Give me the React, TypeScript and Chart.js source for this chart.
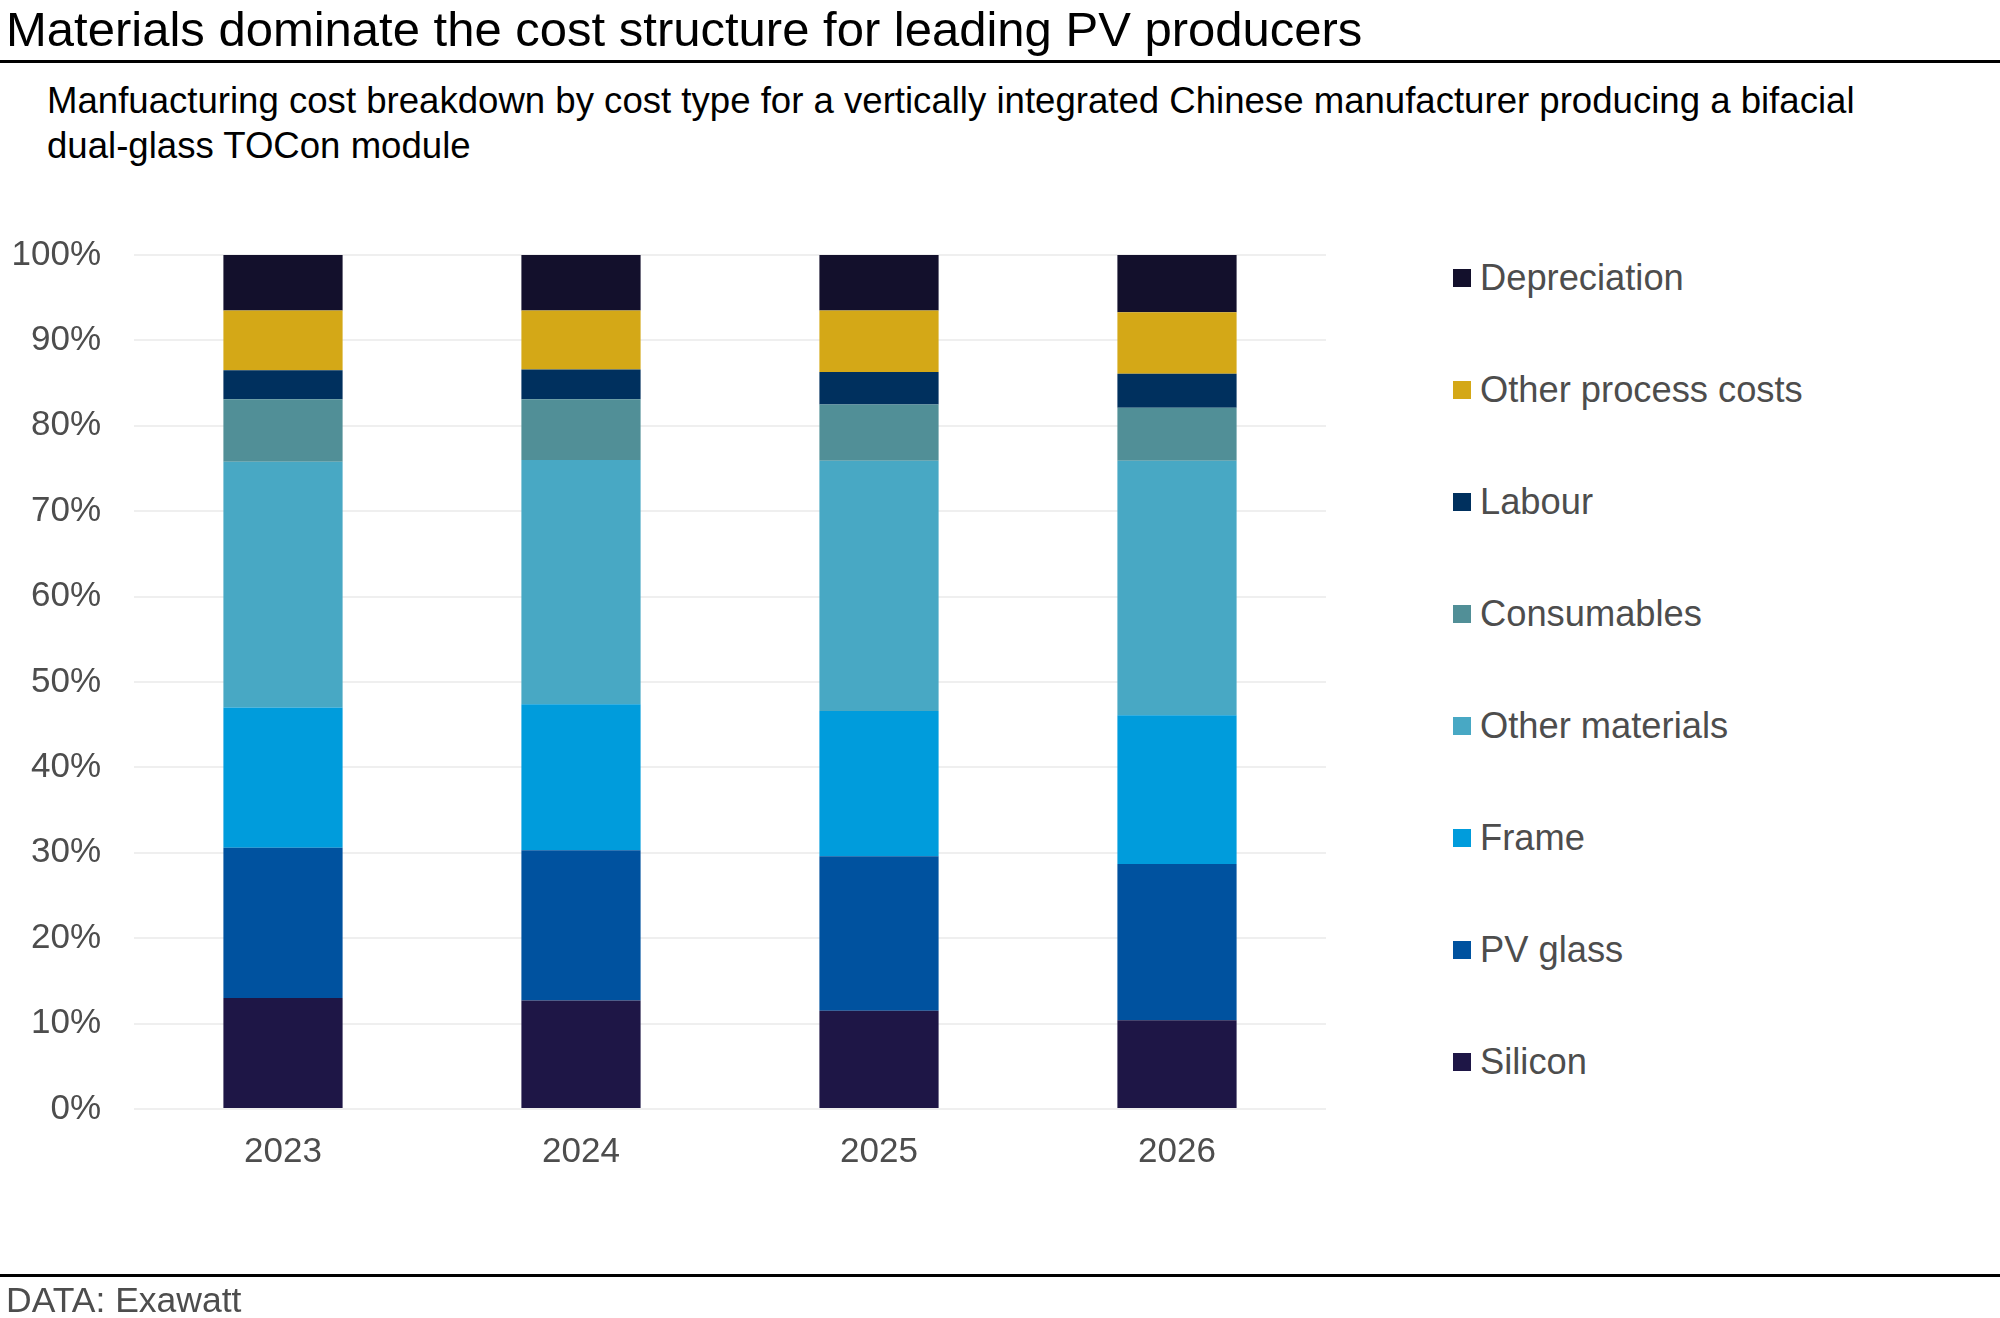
import React, { useEffect, useRef } from "react";
import { Chart, registerables } from "chart.js";

Chart.register(...registerables);

const TITLE = "Materials dominate the cost structure for leading PV producers";
const SUBTITLE_1 =
  "Manfuacturing cost breakdown by cost type for a vertically integrated Chinese manufacturer producing a bifacial";
const SUBTITLE_2 = "dual-glass TOCon module";
const SOURCE = "DATA: Exawatt";

const years = ["2023", "2024", "2025", "2026"];

const seriesNames = [
  "Silicon",
  "PV glass",
  "Frame",
  "Other materials",
  "Consumables",
  "Labour",
  "Other process costs",
  "Depreciation",
];

const seriesColors = [
  "#1e1646",
  "#00529f",
  "#009cdc",
  "#48a8c4",
  "#518f97",
  "#00305e",
  "#d4a817",
  "#13102c",
];

const silicon = [13.0, 12.7, 11.5, 10.4];
const pvGlass = [17.6, 17.6, 18.1, 18.3];
const frame = [16.4, 17.1, 17.0, 17.4];
const otherMaterials = [28.8, 28.6, 29.3, 29.8];
const consumables = [7.3, 7.1, 6.6, 6.2];
const labour = [3.4, 3.5, 3.8, 4.0];
const otherProcess = [7.0, 6.9, 7.2, 7.2];
const depreciation = [6.5, 6.5, 6.5, 6.7];

const seriesValues = [
  silicon,
  pvGlass,
  frame,
  otherMaterials,
  consumables,
  labour,
  otherProcess,
  depreciation,
];

const yTicks = [0, 10, 20, 30, 40, 50, 60, 70, 80, 90, 100];

const FONT = "Arial, 'Liberation Sans', Helvetica, sans-serif";

export default function App() {
  const canvasRef = useRef<HTMLCanvasElement | null>(null);

  useEffect(() => {
    if (!canvasRef.current) return;
    const chart = new Chart(canvasRef.current, {
      type: "bar",
      data: {
        labels: years,
        datasets: seriesNames.map((name, i) => ({
          label: name,
          data: seriesValues[i],
          backgroundColor: seriesColors[i],
          borderWidth: 0,
          barPercentage: 0.5,
          categoryPercentage: 0.8,
        })),
      },
      options: {
        animation: false,
        responsive: false,
        maintainAspectRatio: false,
        devicePixelRatio: 1,
        layout: { padding: { top: 255, right: 74, bottom: 109, left: 0 } },
        plugins: {
          legend: { display: false },
          tooltip: { enabled: false },
          title: { display: false },
        },
        scales: {
          x: {
            stacked: true,
            grid: { display: false, drawTicks: false },
            border: { display: false },
            ticks: {
              color: "#4d4d4d",
              font: { family: FONT, size: 35 },
              padding: 22,
            },
            afterFit: (s: any) => {
              s.height = 100;
            },
          },
          y: {
            stacked: true,
            min: 0,
            max: 100,
            afterBuildTicks: (s: any) => {
              s.ticks = yTicks.map((v) => ({ value: v }));
            },
            grid: { color: "#efefef", lineWidth: 2, drawTicks: false },
            border: { display: false },
            ticks: {
              color: "#4d4d4d",
              font: { family: FONT, size: 35 },
              padding: 33,
              callback: (v: any) => `${v}%`,
            },
            afterFit: (s: any) => {
              s.width = 134;
            },
          },
        },
      },
    });
    return () => chart.destroy();
  }, []);

  const legendOrder = seriesNames.map((_, i) => i).reverse();

  return (
    <div
      style={{
        position: "absolute",
        left: 0,
        top: 0,
        width: 2000,
        height: 1318,
        background: "#ffffff",
        fontFamily: FONT,
        overflow: "hidden",
      }}
    >
      <div
        style={{
          position: "absolute",
          left: 6,
          top: 0,
          fontSize: 49,
          lineHeight: "58px",
          color: "#000",
          whiteSpace: "nowrap",
        }}
      >
        {TITLE}
      </div>
      <div
        style={{
          position: "absolute",
          left: 0,
          top: 60,
          width: 2000,
          height: 3,
          background: "#000",
        }}
      />
      <div
        style={{
          position: "absolute",
          left: 47,
          top: 78,
          fontSize: 36.6,
          lineHeight: "45px",
          color: "#000",
          whiteSpace: "nowrap",
        }}
      >
        <div>{SUBTITLE_1}</div>
        <div>{SUBTITLE_2}</div>
      </div>
      <canvas
        ref={canvasRef}
        width={1400}
        height={1318}
        style={{ position: "absolute", left: 0, top: 0, width: 1400, height: 1318 }}
      />
      {legendOrder.map((idx, k) => (
        <div
          key={seriesNames[idx]}
          style={{
            position: "absolute",
            left: 1453,
            top: 278 + k * 112 - 21,
            height: 42,
            display: "flex",
            alignItems: "center",
            whiteSpace: "nowrap",
          }}
        >
          <div
            style={{
              width: 18,
              height: 18,
              background: seriesColors[idx],
              marginRight: 9,
            }}
          />
          <span style={{ fontSize: 36.3, color: "#4d4d4d", lineHeight: "42px" }}>
            {seriesNames[idx]}
          </span>
        </div>
      ))}
      <div
        style={{
          position: "absolute",
          left: 0,
          top: 1274,
          width: 2000,
          height: 3,
          background: "#000",
        }}
      />
      <div
        style={{
          position: "absolute",
          left: 6,
          top: 1280,
          fontSize: 35.5,
          lineHeight: "40px",
          color: "#4d4d4d",
          whiteSpace: "nowrap",
        }}
      >
        {SOURCE}
      </div>
    </div>
  );
}
